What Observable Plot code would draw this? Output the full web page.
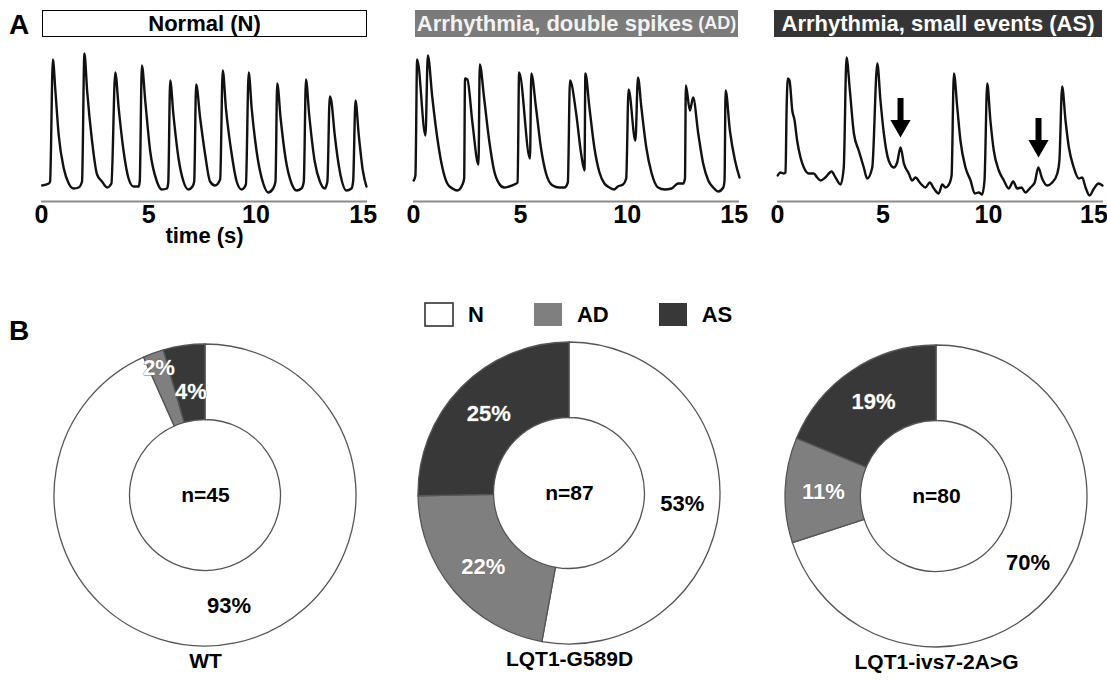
<!DOCTYPE html>
<html>
<head>
<meta charset="utf-8">
<script src="https://cdn.jsdelivr.net/npm/d3@7"></script>
<script src="https://cdn.jsdelivr.net/npm/@observablehq/plot@0.6"></script>
<style>
  body { margin: 0; background: #fff; }
  #fig { position: relative; width: 1107px; height: 682px; overflow: hidden;
         font-family: "Liberation Sans", Arial, sans-serif; font-weight: bold; color: #000; }
  .abs { position: absolute; }
  .panel { position: absolute; font-size: 28px; line-height: 28px; }
  .tbox { position: absolute; height: 27px; display: flex; align-items: center; justify-content: center;
          box-sizing: border-box; font-size: 22px; white-space: nowrap; }
  .lg-swatch { margin-right: 50px !important; font-size: 22px; font-weight: bold; }
  .lg-swatch > svg { margin-right: 15px !important; overflow: visible; }
  .lg-swatch:first-of-type rect { stroke: #333; stroke-width: 1.6px; }
</style>
</head>
<body>
<div id="fig"></div>
<script>
// ---------------- DATA ----------------
// Panel A: calcium transients (time in s, signal in a.u.)
const traceN_t = [0.03,0.34,0.40,0.53,0.65,0.80,1.04,1.27,1.50,1.73,1.89,2.00,2.13,2.36,2.59,2.82,3.06,3.26,3.44,3.60,3.83,4.06,4.29,4.53,4.58,4.68,4.84,5.07,5.38,5.61,5.85,5.91,6.00,6.15,6.39,6.62,6.85,7.04,7.12,7.21,7.40,7.63,7.86,8.09,8.33,8.45,8.60,8.87,9.10,9.33,9.53,9.66,9.80,10.03,10.34,10.57,10.80,10.91,10.99,11.15,11.38,11.66,11.89,12.12,12.23,12.33,12.48,12.74,12.98,13.21,13.33,13.44,13.51,13.67,13.91,14.22,14.45,14.53,14.64,14.79,14.99,15.15];
const traceN_v = [16,18,20,142,110,67,33,18,13,14,20,148,110,60,27,20,14,18,129,93,50,23,15,15,20,136,100,50,20,12,13,19,121,87,43,20,12,15,20,117,83,47,20,16,22,131,93,47,20,12,17,129,93,50,18,9,13,20,118,83,43,18,11,13,20,122,87,40,20,13,20,105,101,67,30,11,13,20,101,67,30,15];

const traceAD_t = [0.01,0.09,0.17,0.56,0.67,0.88,1.11,1.35,1.58,1.82,2.05,2.29,2.37,2.41,2.52,2.76,3.04,3.10,3.30,3.54,3.77,4.00,4.24,4.47,4.71,4.87,4.94,5.45,5.51,5.73,5.96,6.20,6.51,6.82,7.06,7.22,7.32,7.61,7.84,8.00,8.04,8.23,8.46,8.70,8.93,9.17,9.38,9.56,9.80,9.95,10.06,10.38,10.50,10.66,10.89,11.13,11.44,11.75,12.07,12.38,12.62,12.70,12.74,12.93,13.08,13.32,13.55,13.79,14.02,14.26,14.49,14.55,14.60,14.80,15.04,15.25];
const traceAD_v = [21,26,142,66,146,104,64,34,18,13,11,17,23,123,122,78,37,137,104,61,31,18,14,15,17,19,129,43,128,94,54,28,16,14,14,19,121,88,48,31,128,94,54,29,18,14,12,15,17,23,112,61,124,94,54,29,14,12,13,18,18,23,116,91,104,68,38,21,14,10,14,21,111,71,41,24];

const traceAS_t = [0.01,0.14,0.30,0.38,0.43,0.49,0.57,0.70,0.81,0.93,1.09,1.25,1.48,1.72,1.88,2.04,2.27,2.56,2.75,2.99,3.14,3.27,3.43,3.62,3.85,4.09,4.25,4.49,4.73,4.88,5.04,5.27,5.51,5.67,5.83,5.99,6.22,6.38,6.54,6.78,7.01,7.22,7.41,7.64,7.81,7.96,8.15,8.25,8.36,8.52,8.67,8.91,9.15,9.35,9.54,9.70,9.81,9.94,10.09,10.25,10.49,10.73,10.96,11.17,11.36,11.56,11.75,11.99,12.19,12.36,12.54,12.78,13.02,13.26,13.36,13.49,13.65,13.81,14.04,14.28,14.44,14.60,14.79,15.00,15.21,15.40];
const traceAS_v = [26,29,28,29,91,123,121,91,81,61,44,34,28,28,24,21,24,30,24,17,34,144,111,68,51,34,23,34,138,101,68,41,34,39,54,38,28,21,24,18,14,19,13,8,17,14,18,26,128,94,61,34,21,8,9,7,21,118,81,51,31,21,13,20,13,14,9,14,19,34,23,16,19,28,41,115,81,54,34,23,24,14,6,13,18,16];

// arrows marking small events (time, top of shaft, tip of head)
const arrowT   = [5.83, 12.37];
const arrowTop = [103, 83];
const arrowTip = [64, 44];

const timeTicks = [0, 5, 10, 15];
const panelTitles = ["Normal (N)", "Arrhythmia, double spikes", "Arrhythmia, small events (AS)"];
const panelTitleSuffix = "(AD)";

// Panel B: share of cells by category
const categories = ["N", "AD", "AS"];
const catColors  = ["#ffffff", "#7f7f7f", "#383838"];
const groups     = ["WT", "LQT1-G589D", "LQT1-ivs7-2A>G"];
const nCells     = [45, 87, 80];
const pctWT      = [93, 2, 4];
const pctG589D   = [53, 22, 25];
const pctIVS7    = [70, 11, 19];

// ---------------- HELPERS ----------------
const fig = document.getElementById("fig");
const FONT = "'Liberation Sans', Arial, sans-serif";
function place(node, left, top) {
  const d = document.createElement("div");
  d.className = "abs";
  d.style.left = left + "px";
  d.style.top = top + "px";
  d.appendChild(node);
  fig.appendChild(d);
  return d;
}
function htmlDiv(cls, html, css) {
  const d = document.createElement("div");
  d.className = cls;
  d.innerHTML = html;
  Object.assign(d.style, css);
  fig.appendChild(d);
  return d;
}

function trace(ts, vs, tMax, withLabel, arrows) {
  const data = ts.map((t, i) => ({t, v: vs[i]}));
  const marks = [
    Plot.ruleY([0], {stroke: "#8c8c8c", strokeWidth: 2}),
    Plot.line(data, {x: "t", y: "v", stroke: "#111", strokeWidth: 2.4, curve: "monotone-x"})
  ];
  if (arrows) {
    const rows = arrowT.map((t, i) => ({t, top: arrowTop[i], tip: arrowTip[i]}));
    marks.push(Plot.ruleX(rows, {x: "t", y1: "top", y2: d => d.tip + 11, stroke: "#000", strokeWidth: 6}));
    marks.push(Plot.dot(rows, {x: "t", y: d => d.tip + 11.7, symbol: "triangle", r: 7.5, rotate: 180, fill: "#000", stroke: null}));
  }
  if (withLabel) marks.push(Plot.text(["time (s)"], {frameAnchor: "bottom", dy: 41, fontSize: 22}));
  return Plot.plot({
    width: 371, height: 215,
    marginLeft: 41, marginRight: 4, marginTop: 11, marginBottom: 54,
    x: {domain: [0, tMax], ticks: timeTicks, tickSize: 0, tickPadding: 4, label: null, tickFormat: d => String(d)},
    y: {domain: [0, 150], axis: null},
    style: {fontFamily: FONT, fontWeight: "bold", fontSize: "25px", background: "none", overflow: "visible", color: "#000"},
    marks
  });
}

function donut(pcts, n, name) {
  const rows = categories.map((c, i) => ({cat: c, pct: pcts[i], count: Math.round(pcts[i] * n / 100), color: catColors[i]}));
  const arcs = d3.pie().sort(null).value(d => d.count)(rows);
  const inner = 0.5;
  const labels = arcs.map(a => {
    const frac = (a.endAngle - a.startAngle) / (2 * Math.PI);
    const mid = (a.startAngle + a.endAngle) / 2;
    const rho = frac < 0.03 ? 0.9 : frac < 0.05 ? 0.69 : 0.75;
    return {x: rho * Math.sin(mid), y: rho * Math.cos(mid), text: a.data.pct + "%", dark: a.data.cat !== "N"};
  });
  return Plot.plot({
    width: 340, height: 360,
    marginLeft: 19, marginRight: 19, marginTop: 10, marginBottom: 48,
    x: {domain: [-1, 1], axis: null},
    y: {domain: [-1, 1], axis: null},
    style: {fontFamily: FONT, fontWeight: "bold", fontSize: "22px", background: "none", overflow: "visible", color: "#000"},
    marks: [
      (index, scales) => {
        const cx = scales.x(0), cy = scales.y(0), R = scales.x(1) - scales.x(0);
        const arc = d3.arc().innerRadius(R * inner).outerRadius(R);
        const g = d3.create("svg:g").attr("transform", `translate(${cx},${cy})`);
        g.selectAll("path").data(arcs).join("path")
          .attr("d", arc)
          .attr("fill", d => d.data.color)
          .attr("stroke", "#555")
          .attr("stroke-width", 1.3);
        return g.node();
      },
      Plot.text(labels.filter(d => d.dark), {x: "x", y: "y", text: "text", fill: "#fff", stroke: "#6a6a6a", strokeWidth: 0.8, paintOrder: "stroke", fontSize: 22}),
      Plot.text(labels.filter(d => !d.dark), {x: "x", y: "y", text: "text", fill: "#000", fontSize: 22}),
      Plot.text([{x: 0, y: 0, t: `n=${n}`}], {x: "x", y: "y", text: "t", fontSize: 21}),
      Plot.text([name], {frameAnchor: "bottom", dy: 21, fontSize: 21})
    ]
  });
}

// ---------------- PANEL A ----------------
htmlDiv("panel", "A", {left: "9px", top: "11px"});
htmlDiv("tbox", panelTitles[0], {left: "42px", top: "10px", width: "325px", border: "1.5px solid #000", background: "#fff", color: "#000"});
htmlDiv("tbox", panelTitles[1] + ` <span style="font-size:18px;margin-left:5px">${panelTitleSuffix}</span>`, {left: "415px", top: "10px", width: "323px", background: "#7b7b7b", color: "#f2f2f2"});
htmlDiv("tbox", panelTitles[2], {left: "774px", top: "10px", width: "328px", background: "#353535", color: "#fff"});

place(trace(traceN_t, traceN_v, 15.2, true, false), 0, 40);
place(trace(traceAD_t, traceAD_v, 15.25, false, false), 372, 40);
place(trace(traceAS_t, traceAS_v, 15.45, false, true), 736, 40);

// ---------------- PANEL B ----------------
htmlDiv("panel", "B", {left: "9px", top: "317px"});
place(donut(pctWT, nCells[0], groups[0]), 35, 334);
place(donut(pctG589D, nCells[1], groups[1]), 399, 332);
place(donut(pctIVS7, nCells[2], groups[2]), 766, 335);

const legend = Plot.legend({
  color: {type: "ordinal", domain: categories, range: catColors},
  legend: "swatches", swatchWidth: 28, swatchHeight: 23, className: "lg",
  style: {fontFamily: FONT, fontSize: "22px", fontWeight: "bold", color: "#000", background: "none"}
});
place(legend, 425, 298);
</script>
</body>
</html>
